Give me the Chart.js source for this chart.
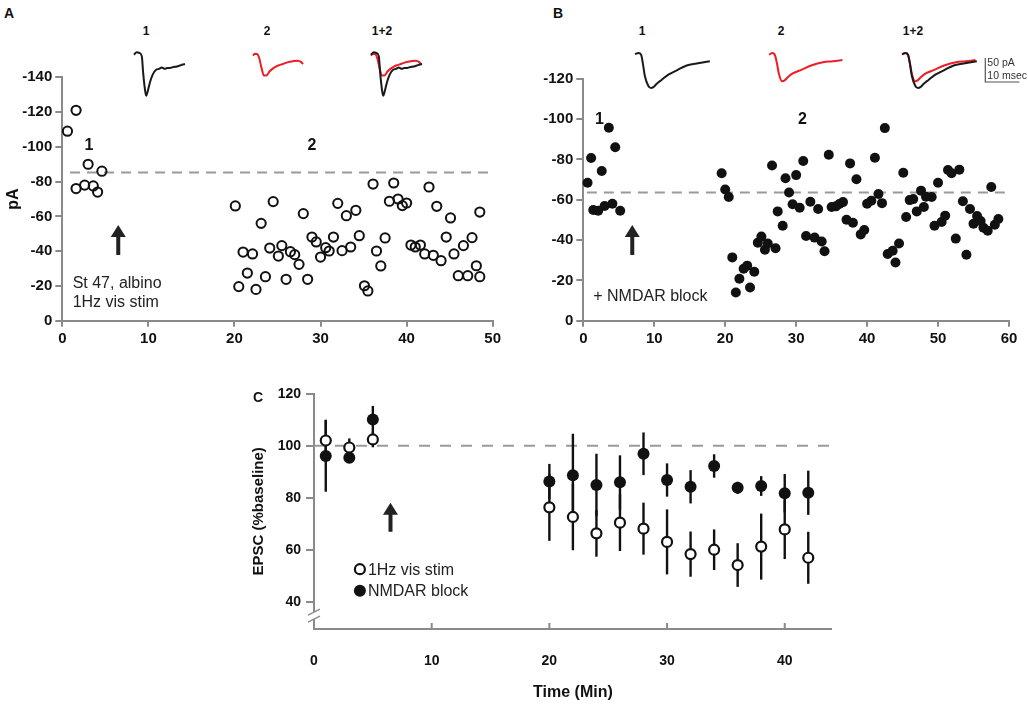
<!DOCTYPE html>
<html><head><meta charset="utf-8">
<script src="https://cdn.jsdelivr.net/npm/chart.js@4.4.1/dist/chart.umd.min.js"></script>
<style>
html,body{margin:0;padding:0;background:#fff;}
#wrap{position:relative;width:1028px;height:704px;overflow:hidden;font-family:"Liberation Sans",Arial,Helvetica,sans-serif;color:#111;}
canvas{position:absolute;}
.lbl{position:absolute;font-weight:bold;white-space:nowrap;line-height:1;transform:translate(-50%,-50%);}
</style></head><body><div id="wrap">
<canvas id="cA" width="515" height="300" style="left:0;top:55px;width:515px;height:300px"></canvas>
<canvas id="cB" width="513" height="300" style="left:515px;top:55px;width:513px;height:300px"></canvas>
<canvas id="cC" width="610" height="329" style="left:240px;top:375px;width:610px;height:329px"></canvas>
<div class="lbl" style="left:9px;top:13px;font-size:14px">A</div>
<div class="lbl" style="left:558px;top:13px;font-size:14px">B</div>
<div class="lbl" style="left:258px;top:397px;font-size:14px">C</div>
<div class="lbl" style="left:146px;top:31px;font-size:12px">1</div>
<div class="lbl" style="left:267px;top:31px;font-size:12px">2</div>
<div class="lbl" style="left:382px;top:31px;font-size:12px">1+2</div>
<div class="lbl" style="left:642px;top:31px;font-size:12px">1</div>
<div class="lbl" style="left:781px;top:31px;font-size:12px">2</div>
<div class="lbl" style="left:913px;top:31px;font-size:12px">1+2</div>
</div>
<script>
// ---------- Panel A: 1Hz visual stimulation (pA vs min) ----------
const aTime = [0.6,1.6,1.6,2.6,3.0,3.6,4.1,4.6,
 20.1,20.5,21.0,21.5,22.1,22.5,23.1,23.6,24.1,24.5,25.1,25.5,26.0,26.5,27.0,27.5,28.0,28.5,29.0,29.5,
 30.0,30.6,31.0,31.5,32.0,32.5,33.0,33.5,34.1,34.5,35.1,35.5,36.1,36.5,37.0,37.5,38.0,38.5,39.0,39.5,
 40.0,40.5,41.0,41.6,42.1,42.6,43.1,43.5,44.0,44.6,45.1,45.5,46.0,46.6,47.1,47.6,48.1,48.5,48.5];
const aCurrent = [-109,-121,-76,-78,-90,-77.5,-74,-86,
 -66,-19.6,-39.5,-27.4,-38.4,-18,-56,-25.3,-41.8,-68.5,-37.2,-43.2,-23.8,-39.7,-38,-32.4,-61.6,-23.8,-48.1,-45.3,
 -36.6,-42,-40.1,-48.1,-67.5,-40.3,-60.4,-42.4,-63.5,-48.9,-20.1,-17.1,-78.6,-40.1,-31.5,-47.6,-68.7,-79.2,-70,-66.2,
 -67.7,-43.5,-42.4,-43.5,-38.4,-76.9,-37.6,-65.8,-34.5,-48.1,-59.1,-38.4,-25.9,-43.2,-25.9,-47.8,-31.6,-25.3,-62.5];
const aBaseline = -85.2;

// ---------- Panel B: + NMDAR block ----------
const bTime = [0.6,1.1,1.4,2.1,2.6,3.0,3.6,4.1,4.5,5.2,
 19.5,20.0,20.5,21.0,21.5,22.0,22.6,23.1,23.5,24.1,24.6,25.1,25.6,26.0,26.6,27.1,27.4,28.1,28.5,29.0,29.5,
 30.0,30.5,31.0,31.4,32.0,32.6,33.1,33.6,34.0,34.6,35.0,35.6,36.1,36.6,37.1,37.6,38.0,38.5,39.1,39.6,
 40.0,40.6,41.1,41.6,42.1,42.5,42.9,43.6,44.0,44.5,45.1,45.5,46.0,46.5,47.0,47.6,48.0,48.3,49.1,49.5,
 50.0,50.5,51.0,51.4,51.9,52.5,53.0,53.5,54.0,54.5,55.0,55.5,56.0,56.4,57.0,57.5,58.0,58.5];
const bCurrent = [-68.4,-80.7,-54.9,-54.5,-74.2,-56.9,-95.7,-58,-86,-54.5,
 -73.1,-65.1,-61.3,-31.4,-14.0,-20.8,-25.8,-27.3,-16.5,-24.3,-38.7,-41.7,-35.2,-38.3,-77.0,-35.9,-54.2,-47.1,-70.6,-63.6,-57.7,
 -72.2,-56.0,-79.2,-42.0,-59.0,-41.2,-55.4,-39.3,-34.4,-82.3,-56.4,-56.7,-57.9,-58.8,-50.1,-78.0,-48.6,-70.1,-42.8,-45.0,
 -58.0,-59.5,-80.8,-62.8,-58.3,-95.5,-33.1,-34.7,-28.9,-38.3,-73.4,-51.4,-59.8,-60.3,-54.2,-64.5,-56.4,-61.5,-61.3,-47.1,
 -68.4,-48.9,-52.1,-74.7,-73.1,-40.7,-74.9,-59.2,-32.7,-55.4,-48.1,-51.9,-49.4,-46.1,-44.6,-66.3,-47.6,-50.4];
const bBaseline = -63.6;

// ---------- Panel C: group averages (% baseline) ----------
const cTime = [1,3,5,20,22,24,26,28,30,32,34,36,38,40,42];
const cStim = [102,99.3,102.4,76.3,72.6,66.3,70.4,68.1,63,58.3,60,54.1,61.2,67.8,56.9];
const cStimErr = [8,3.5,3,12.9,12.8,9,10.9,10,12.5,8.7,7.8,8.4,12.7,11.4,10];
const cBlock = [96,95.4,110.1,86.2,88.6,84.9,85.9,96.9,86.8,84.2,92.2,83.8,84.5,81.7,81.9];
const cBlockErr = [13.7,2,5.2,6.8,16,12,10.4,8.2,6.4,6.4,4.5,2.3,3.8,7.4,8.5];
const cTicksX = [0,10,20,30,40];
const cTicksY = [40,60,80,100,120];

// ---------- Example EPSC traces (ms, pA) ----------
const aTr1Time = [0,0.8,1.6,2.3,2.7,3.3,3.6,4.1,4.7,5.5,6.5,7.4,8.1,9.1,9.8,10.6,11.6,12.6,13.5,14.3,15];
const aTr1Cur  = [-3.5,1.5,0,-7,-42,-80,-89,-78,-61,-45,-35,-33,-30,-33,-31,-31,-29,-28,-26,-24,-23];
const aTr2Time = [0,0.5,1.2,1.8,2.5,3.2,3.9,4.9,6.1,7.4,8.8,10.3,11.8,13.2,14.2,14.7];
const aTr2Cur  = [-5.5,-1.5,-2,-10,-31,-47,-47,-38,-31,-26,-23,-19,-17,-16,-19,-23];
const bTr1Time = [0,1,1.8,2.3,2.9,3.9,4.7,5.4,6.4,7.8,9.8,12.3,15.2,18.1,22];
const bTr1Cur  = [0,2,-1.5,-19,-46,-66,-71,-69,-62,-54,-43,-34,-24,-20,-15];
const bTr2Time = [0,1,1.8,2.4,2.9,3.9,4.6,5.6,7.1,9.5,12.4,15.9,18.8,21.6];
const bTr2Cur  = [-1.5,2,-3.5,-22,-41,-57,-55,-48,-40,-33,-24,-17,-15,-12.5];

const FONT = '"Liberation Sans", Arial, Helvetica, sans-serif';
const AXC = '#8a8a8a', TXT = '#111', RED = '#ee1c24';
Chart.defaults.font.family = FONT;
const pts = (xs, ys) => xs.map((x, i) => ({x, y: ys[i]}));

const deco = {
  id: 'deco',
  beforeDatasetsDraw(chart, args, o) {
    const ctx = chart.ctx, xs = chart.scales.x, ys = chart.scales.y;
    ctx.save();
    (o.dashes || []).forEach(d => {
      ctx.setLineDash(d.dash || [10, 7]); ctx.strokeStyle = '#9a9a9a'; ctx.lineWidth = 2;
      ctx.beginPath();
      ctx.moveTo(xs.getPixelForValue(d.x0), ys.getPixelForValue(d.y));
      ctx.lineTo(xs.getPixelForValue(d.x1), ys.getPixelForValue(d.y));
      ctx.stroke();
    });
    ctx.setLineDash([]);
    (o.err || []).forEach(s => {
      ctx.strokeStyle = '#111'; ctx.lineWidth = 2.4;
      s.x.forEach((xv, i) => {
        const px = xs.getPixelForValue(xv);
        ctx.beginPath();
        ctx.moveTo(px, ys.getPixelForValue(s.y[i] - s.e[i]));
        ctx.lineTo(px, ys.getPixelForValue(s.y[i] + s.e[i]));
        ctx.stroke();
      });
    });
    ctx.restore();
  },
  afterDatasetsDraw(chart, args, o) {
    const ctx = chart.ctx, xs = chart.scales.x, ys = chart.scales.y;
    ctx.save();
    (o.arrows || []).forEach(a => {
      const px = xs.getPixelForValue(a.x), yb = ys.getPixelForValue(a.y0), yt = ys.getPixelForValue(a.y1);
      ctx.fillStyle = '#222';
      ctx.fillRect(px - 2, yt + 10, 4, yb - yt - 10);
      ctx.beginPath(); ctx.moveTo(px, yt); ctx.lineTo(px - 7.5, yt + 12); ctx.lineTo(px + 7.5, yt + 12); ctx.closePath(); ctx.fill();
    });
    (o.texts || []).forEach(t => {
      ctx.font = t.font; ctx.fillStyle = t.color || TXT; ctx.textAlign = t.align || 'center'; ctx.textBaseline = 'middle';
      ctx.fillText(t.text, xs.getPixelForValue(t.x), ys.getPixelForValue(t.y));
    });
    (o.legend || []).forEach(l => {
      const px = xs.getPixelForValue(l.x), py = ys.getPixelForValue(l.y);
      ctx.beginPath(); ctx.arc(px, py, l.filled ? 6 : 5, 0, Math.PI * 2);
      if (l.filled) { ctx.fillStyle = '#111'; ctx.fill(); }
      else { ctx.fillStyle = '#fff'; ctx.fill(); ctx.lineWidth = 2.2; ctx.strokeStyle = '#111'; ctx.stroke(); }
      ctx.font = '16px ' + FONT; ctx.fillStyle = '#222'; ctx.textAlign = 'left'; ctx.textBaseline = 'middle';
      ctx.fillText(l.text, px + 8, py + 1);
    });
    ctx.restore();
  },
  afterDraw(chart, args, o) {
    const ctx = chart.ctx, xs = chart.scales.x, ys = chart.scales.y, ca = chart.chartArea;
    ctx.save();
    if (o.innerTicks) {
      ctx.strokeStyle = AXC; ctx.lineWidth = 2;
      o.innerTicks.forEach(v => {
        const px = xs.getPixelForValue(v);
        ctx.beginPath(); ctx.moveTo(px, ca.bottom); ctx.lineTo(px, ca.bottom - 6); ctx.stroke();
      });
    }
    if (o.breakAt) {
      const px = ca.left, y1 = ys.getPixelForValue(o.breakAt[0]), y2 = ys.getPixelForValue(o.breakAt[1]);
      ctx.fillStyle = '#fff';
      ctx.beginPath(); ctx.moveTo(px - 6, y1 + 3); ctx.lineTo(px + 6, y1 - 3); ctx.lineTo(px + 6, y2 - 3); ctx.lineTo(px - 6, y2 + 3); ctx.closePath(); ctx.fill();
      ctx.strokeStyle = AXC; ctx.lineWidth = 1.5;
      [y1, y2].forEach(yy => { ctx.beginPath(); ctx.moveTo(px - 6, yy + 3); ctx.lineTo(px + 6, yy - 3); ctx.stroke(); });
    }
    if (o.scaleBar) {
      const s = o.scaleBar;
      const x0 = xs.getPixelForValue(s.t0), x1 = xs.getPixelForValue(s.t0 + s.dt);
      const y0 = ys.getPixelForValue(s.i0), y1 = ys.getPixelForValue(s.i0 - s.di);
      ctx.strokeStyle = '#555'; ctx.lineWidth = 1.2;
      ctx.beginPath(); ctx.moveTo(x0, y0); ctx.lineTo(x0, y1); ctx.lineTo(x1, y1); ctx.stroke();
      ctx.font = '10.5px ' + FONT; ctx.fillStyle = '#333'; ctx.textAlign = 'left'; ctx.textBaseline = 'middle';
      ctx.fillText(s.l1, x0 + 2, y0 + 5);
      ctx.fillText(s.l2, x0 + 2, y1 - 6);
    }
    ctx.restore();
  }
};

function axisX(min, max, h, fontSize, extra) {
  return Object.assign({
    type: 'linear', min, max,
    border: {color: AXC, width: 2},
    grid: {drawOnChartArea: false, drawTicks: true, tickLength: 6, color: AXC, lineWidth: 2},
    ticks: {stepSize: 10, color: TXT, padding: 3, font: {size: fontSize, weight: 'bold'}},
    afterFit: s => { s.height = h; }
  }, extra || {});
}
function axisY(min, max, w, fontSize, extra) {
  return Object.assign({
    type: 'linear', min, max,
    border: {color: AXC, width: 2},
    grid: {drawOnChartArea: false, drawTicks: true, tickLength: 7, color: AXC, lineWidth: 2},
    ticks: {stepSize: 20, color: TXT, padding: 3, font: {size: fontSize, weight: 'bold'}},
    afterFit: s => { s.width = w; }
  }, extra || {});
}

// Panel A
new Chart(document.getElementById('cA'), {
  type: 'scatter',
  data: {datasets: [{data: pts(aTime, aCurrent), pointRadius: 4.6, pointHoverRadius: 4.6, pointBorderWidth: 2,
    borderColor: '#111', backgroundColor: 'rgba(255,255,255,0)', clip: false}]},
  options: {
    responsive: false, animation: false, events: [],
    layout: {padding: {top: 22.3, right: 22.3, left: 0, bottom: 0}},
    scales: {
      x: axisX(0, 50, 34.3, 15),
      y: axisY(-140, 0, 62.3, 15, {reverse: true,
        title: {display: true, text: 'pA', color: TXT, font: {size: 16, weight: 'bold'}, padding: {top: 4, bottom: 0}}})
    },
    plugins: {legend: {display: false}, tooltip: {enabled: false},
      deco: {
        dashes: [{y: aBaseline, x0: 0.9, x1: 49.7}],
        arrows: [{x: 6.5, y0: -37.8, y1: -55}],
        texts: [
          {x: 3.1, y: -100.7, text: '1', font: 'bold 16px ' + FONT},
          {x: 29.0, y: -100.7, text: '2', font: 'bold 16px ' + FONT},
          {x: 1.2, y: -21.5, text: 'St 47, albino', font: '16px ' + FONT, align: 'left', color: '#222'},
          {x: 1.2, y: -10.4, text: '1Hz vis stim', font: '16px ' + FONT, align: 'left', color: '#222'}
        ]
      }}
  },
  plugins: [deco]
});

// Panel B
new Chart(document.getElementById('cB'), {
  type: 'scatter',
  data: {datasets: [{data: pts(bTime, bCurrent), pointRadius: 5, pointHoverRadius: 5, pointBorderWidth: 0,
    borderColor: '#111', backgroundColor: '#111', clip: false}]},
  options: {
    responsive: false, animation: false, events: [],
    layout: {padding: {top: 23.7, right: 19, left: 0, bottom: 0}},
    scales: {
      x: axisX(0, 60, 34.3, 15),
      y: axisY(-120, 0, 68.3, 15, {reverse: true})
    },
    plugins: {legend: {display: false}, tooltip: {enabled: false},
      deco: {
        dashes: [{y: bBaseline, x0: 0.5, x1: 59.7}],
        arrows: [{x: 6.9, y0: -32.6, y1: -47.4}],
        texts: [
          {x: 2.26, y: -99.5, text: '1', font: 'bold 16px ' + FONT},
          {x: 30.9, y: -99.5, text: '2', font: 'bold 16px ' + FONT},
          {x: 1.4, y: -12.2, text: '+ NMDAR block', font: '16px ' + FONT, align: 'left', color: '#222'}
        ]
      }}
  },
  plugins: [deco]
});

// Panel C
new Chart(document.getElementById('cC'), {
  type: 'scatter',
  data: {datasets: [
    {label: 'NMDAR block', data: pts(cTime, cBlock), pointRadius: 6, pointHoverRadius: 6, pointBorderWidth: 0,
      backgroundColor: '#111', borderColor: '#111', clip: false},
    {label: '1Hz vis stim', data: pts(cTime, cStim), pointRadius: 5, pointHoverRadius: 5, pointBorderWidth: 2.2,
      backgroundColor: '#fff', borderColor: '#111', clip: false}
  ]},
  options: {
    responsive: false, animation: false, events: [],
    layout: {padding: {top: 18.7, right: 18.2, left: 0, bottom: 0}},
    scales: {
      x: axisX(0, 44, 75, 14, {
        grid: {drawOnChartArea: false, drawTicks: false, color: AXC},
        ticks: {stepSize: 10, color: TXT, padding: 24, font: {size: 14, weight: 'bold'}},
        afterBuildTicks: s => { s.ticks = cTicksX.map(v => ({value: v})); },
        title: {display: true, text: 'Time (Min)', color: TXT, font: {size: 16, weight: 'bold'}, padding: {top: 0, bottom: 2}}
      }),
      y: axisY(29.5, 120, 74, 14, {
        grid: {drawOnChartArea: false, drawTicks: true, tickLength: 8, color: AXC, lineWidth: 2},
        ticks: {stepSize: 20, color: TXT, padding: 5, font: {size: 14, weight: 'bold'}},
        afterBuildTicks: s => { s.ticks = cTicksY.map(v => ({value: v})); },
        title: {display: true, text: 'EPSC (%baseline)', color: TXT, font: {size: 15, weight: 'bold'}, padding: {top: 10, bottom: 0}}
      })
    },
    plugins: {legend: {display: false}, tooltip: {enabled: false},
      deco: {
        dashes: [{y: 100, x0: 0, x1: 44, dash: [11, 10]}],
        err: [{x: cTime, y: cBlock, e: cBlockErr}, {x: cTime, y: cStim, e: cStimErr}],
        arrows: [{x: 6.5, y0: 66.9, y1: 78.1}],
        legend: [{x: 3.9, y: 52.5, text: '1Hz vis stim', filled: false}, {x: 3.9, y: 44.2, text: 'NMDAR block', filled: true}],
        innerTicks: [10, 20, 30, 40],
        breakAt: [33.3, 36.0]
      }}
  },
  plugins: [deco]
});

// Example traces (each drawn on its own small chart, common ms / pA scale)
const PX_MS = 3.4, PX_PA = 0.48, OX = 4, OY = 8;
function trace(startX, baseY, w, h, sets, extraDeco) {
  const c = document.createElement('canvas');
  c.width = w; c.height = h;
  c.style.cssText = `left:${startX - OX}px;top:${baseY - OY}px;width:${w}px;height:${h}px;`;
  document.getElementById('wrap').appendChild(c);
  new Chart(c, {
    type: 'scatter',
    data: {datasets: sets.map(s => ({data: pts(s.t, s.i), showLine: true, pointRadius: 0, borderWidth: 2,
      borderColor: s.color, backgroundColor: s.color, cubicInterpolationMode: 'monotone', clip: false}))},
    options: {
      responsive: false, animation: false, events: [],
      layout: {padding: 0},
      scales: {
        x: {type: 'linear', display: false, min: -OX / PX_MS, max: (w - OX) / PX_MS},
        y: {type: 'linear', display: false, min: -(h - OY) / PX_PA, max: OY / PX_PA}
      },
      plugins: {legend: {display: false}, tooltip: {enabled: false}, deco: extraDeco || {}}
    },
    plugins: [deco]
  });
}
const k1A = {t: aTr1Time, i: aTr1Cur, color: '#1a1a1a'}, r2A = {t: aTr2Time, i: aTr2Cur, color: RED};
const k1B = {t: bTr1Time, i: bTr1Cur, color: '#1a1a1a'}, r2B = {t: bTr2Time, i: bTr2Cur, color: RED};
trace(134, 53.3, 70, 60, [k1A]);
trace(253.3, 53.3, 70, 60, [r2A]);
trace(370.7, 53.3, 70, 60, [k1A, r2A]);
trace(635, 54.3, 90, 50, [k1B]);
trace(769.3, 54.3, 90, 50, [r2B]);
trace(901.7, 54.3, 130, 50, [k1B, r2B], {scaleBar: {t0: 24.5, dt: 10, i0: -8.3, di: 50, l1: '50 pA', l2: '10 msec'}});
</script></body></html>
